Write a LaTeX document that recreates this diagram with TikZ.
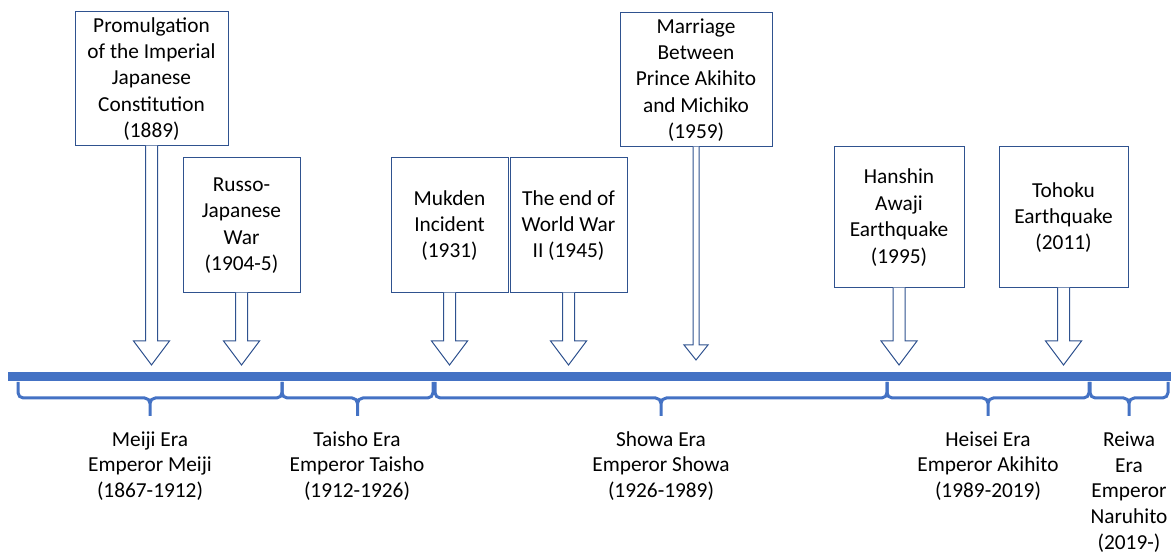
\documentclass[tikz,border=0pt]{standalone}
\usepackage{fontspec}
\setmainfont{Carlito}
\usetikzlibrary{calc}

\definecolor{lineblue}{RGB}{68,114,196}
\definecolor{boxblue}{RGB}{47,82,143}

\newcommand{\downcallout}[5]{%
    \draw[callout] let \p1=(#1.south), \p2=(#2) in
        (\x1-#3,\y1+0.6pt) -- (\x1-#3,\y2+#5) -- (\x1-#4,\y2+#5) -- (\x1,\y2)
        -- (\x1+#4,\y2+#5) -- (\x1+#3,\y2+#5) -- (\x1+#3,\y1+0.6pt);}

\begin{document}
\begin{tikzpicture}[x=0.75pt,y=-0.75pt,
        event/.style={draw=boxblue,line width=0.75pt,fill=white,inner sep=0pt,
            align=center,font=\fontsize{16}{19.8}\selectfont},
        callout/.style={draw=boxblue,line width=0.75pt,fill=white},
        era/.style={align=center,font=\fontsize{16}{19.2}\selectfont},
        bracket/.style={draw=lineblue,line width=2.25pt,rounded corners=4pt}]
                    \useasboundingbox (0,0) rectangle (1171,555);
                    \fill[lineblue] (8,372) rectangle (1175,381);
                    \foreach \a/\b in {18/282,282/433,435/887,887/1089,1090/1168}
                        \draw[bracket] (\a,382) -- (\a,398) -- ({(\a+\b)/2},398) -- ({(\a+\b)/2},416)
                            (\b,382) -- (\b,398) -- ({(\a+\b)/2},398) -- ({(\a+\b)/2},416);
                    \node[event,minimum width=114.75pt,minimum height=100.5pt] (promulgation) at (151.5,79)
                        {Promulgation\\of the Imperial\\Japanese\\Constitution\\(1889)};
                    \node[event,minimum width=87.75pt,minimum height=101.25pt] (russo) at (241.5,225.5)
                        {Russo-\\Japanese\\War\\(1904-5)};
                    \node[event,minimum width=87.75pt,minimum height=101.25pt] (mukden) at (449.5,225.5)
                        {Mukden\\Incident\\(1931)};
                    \node[event,minimum width=87.75pt,minimum height=101.25pt] (wwii) at (568.5,225.5)
                        {The end of\\World War\\II (1945)};
                    \node[event,minimum width=114pt,minimum height=100.5pt] (marriage) at (696,80)
                        {Marriage\\Between\\Prince Akihito\\and Michiko\\(1959)};
                    \node[event,minimum width=97.5pt,minimum height=105.75pt] (hanshin) at (899,217.5)
                        {Hanshin\\Awaji\\Earthquake\\(1995)};
                    \node[event,minimum width=96.75pt,minimum height=105.75pt] (tohoku) at (1063.5,217.5)
                        {Tohoku\\Earthquake\\(2011)};
                    \coordinate (promulgationtip) at (151,365);
                    \coordinate (russotip) at (242,365);
                    \coordinate (mukdentip) at (449,365);
                    \coordinate (wwiitip) at (568,365);
                    \coordinate (marriagetip) at (697,360);
                    \coordinate (hanshintip) at (899,365);
                    \coordinate (tohokutip) at (1064,365);
                    \downcallout{promulgation}{promulgationtip}{4.5pt}{13.5pt}{18pt}
                    \downcallout{russo}{russotip}{4.5pt}{13.5pt}{18pt}
                    \downcallout{mukden}{mukdentip}{4.5pt}{13.5pt}{18pt}
                    \downcallout{wwii}{wwiitip}{4.5pt}{13.5pt}{18pt}
                    \downcallout{marriage}{marriagetip}{2.25pt}{9pt}{11.25pt}
                    \downcallout{hanshin}{hanshintip}{4.5pt}{13.5pt}{18pt}
                    \downcallout{tohoku}{tohokutip}{4.5pt}{13.5pt}{18pt}
                    \node[era] (meiji) at (150,466) {Meiji Era\\Emperor Meiji\\(1867-1912)};
                    \node[era] (taisho) at (357,466) {Taisho Era\\Emperor Taisho\\(1912-1926)};
                    \node[era] (showa) at (661,466) {Showa Era\\Emperor Showa\\(1926-1989)};
                    \node[era] (heisei) at (988,466) {Heisei Era\\Emperor Akihito\\(1989-2019)};
                    \node[era] (reiwa) at (1129,492) {Reiwa\\Era\\Emperor\\Naruhito\\(2019-)};
                \end{tikzpicture}
\end{document}
